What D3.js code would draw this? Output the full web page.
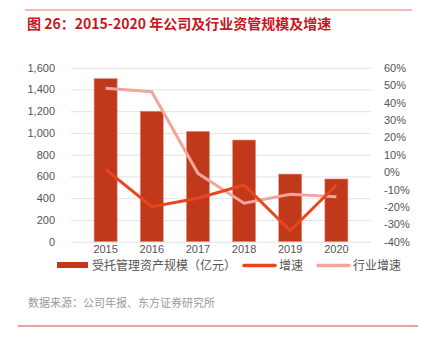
<!DOCTYPE html>
<html>
<head>
<meta charset="utf-8">
<script src="https://cdn.jsdelivr.net/npm/d3@7"></script>
<style>
  body { margin: 0; background: #fff; }
  svg { font-family: "Noto Sans CJK SC", "Liberation Sans", sans-serif; }
</style>
</head>
<body>
<svg width="426" height="340"></svg>
<script>
// data
var years = ['2015', '2016', '2017', '2018', '2019', '2020']
var scale = [1500, 1200, 1015, 935, 622, 577]       // 受托管理资产规模（亿元）
var growth = [1.6, -19.9, -15.0, -7.4, -33.7, -7.4]  // 增速 %
var industry = [48.2, 46.2, -0.7, -17.9, -12.8, -14.1] // 行业增速 %
var leftTicks = [0, 200, 400, 600, 800, 1000, 1200, 1400, 1600]
var rightTicks = [-40, -30, -20, -10, 0, 10, 20, 30, 40, 50, 60]

var svg = d3.select('svg')

// frame lines
svg.append('line').attr('x1', 25).attr('x2', 412).attr('y1', 10).attr('y2', 10)
  .attr('stroke', '#e8777a').attr('stroke-width', 1)
svg.append('line').attr('x1', 18).attr('x2', 418).attr('y1', 326).attr('y2', 326)
  .attr('stroke', '#d9454a').attr('stroke-width', 1)

// title
svg.append('text').attr('x', 27).attr('y', 29)
  .attr('fill', '#c8161e').attr('font-size', 14).attr('font-weight', 'bold')
  .text('图 26：2015-2020 年公司及行业资管规模及增速')

const pLeft = 71, pRight = 371, pTop = 67.7, pBottom = 241.7

const x = d3.scaleBand().domain(years).range([pLeft, pRight]).padding(0.5)
const yL = d3.scaleLinear().domain([0, 1600]).range([pBottom, pTop])
const yR = d3.scaleLinear().domain([-40, 60]).range([pBottom, pTop])

// grid
svg.append('g')
  .attr('transform', `translate(${pLeft},0)`)
  .call(d3.axisLeft(yL).tickValues(leftTicks).tickSize(-(pRight - pLeft)).tickFormat(''))
  .call(g => g.select('.domain').remove())
  .call(g => g.selectAll('line').attr('stroke', '#e3e3e3').attr('stroke-width', 1))

// left axis labels
svg.append('g')
  .attr('transform', `translate(${pLeft - 13},0)`)
  .call(d3.axisLeft(yL).tickValues(leftTicks).tickSize(0).tickFormat(d3.format(',')))
  .call(g => g.select('.domain').remove())
  .call(g => g.selectAll('text').attr('fill', '#555').attr('font-size', 11)
    .attr('font-family', 'Liberation Sans, sans-serif'))

// right axis labels
svg.append('g')
  .attr('transform', `translate(${pRight + 10},0)`)
  .call(d3.axisRight(yR).tickValues(rightTicks).tickSize(0).tickFormat(d => d + '%'))
  .call(g => g.select('.domain').remove())
  .call(g => g.selectAll('text').attr('fill', '#555').attr('font-size', 11)
    .attr('font-family', 'Liberation Sans, sans-serif'))

// x axis labels
svg.append('g')
  .attr('transform', `translate(0,${pBottom + 1})`)
  .call(d3.axisBottom(x).tickSize(0))
  .call(g => g.select('.domain').remove())
  .call(g => g.selectAll('text').attr('fill', '#555').attr('font-size', 11)
    .attr('font-family', 'Liberation Sans, sans-serif'))

// bars
svg.selectAll('.bar')
  .data(scale)
  .enter()
  .append('rect')
  .attr('class', 'bar')
  .attr('x', (d, i) => x(years[i]))
  .attr('y', d => yL(d))
  .attr('width', x.bandwidth())
  .attr('height', d => pBottom - yL(d))
  .attr('fill', '#c0391b')
  .attr('stroke', '#e6998a')
  .attr('stroke-width', 0.6)

const line = d3.line()
  .x((d, i) => x(years[i]) + x.bandwidth() / 2)
  .y(d => yR(d))

svg.append('path').datum(industry)
  .attr('d', line).attr('fill', 'none')
  .attr('stroke', '#f1a69b').attr('stroke-width', 3)

svg.append('path').datum(growth)
  .attr('d', line).attr('fill', 'none')
  .attr('stroke', '#e8461e').attr('stroke-width', 3)

// legend
const lg = svg.append('g').attr('font-size', 12).attr('fill', '#555')
lg.append('rect').attr('x', 57).attr('y', 262).attr('width', 31).attr('height', 6).attr('fill', '#c0391b')
lg.append('text').attr('x', 92).attr('y', 270).text('受托管理资产规模（亿元）')
lg.append('line').attr('x1', 244).attr('x2', 275).attr('y1', 265.5).attr('y2', 265.5)
  .attr('stroke', '#e8461e').attr('stroke-width', 3.5).attr('stroke-linecap', 'round')
lg.append('text').attr('x', 279).attr('y', 270).text('增速')
lg.append('line').attr('x1', 318).attr('x2', 349).attr('y1', 265.5).attr('y2', 265.5)
  .attr('stroke', '#f1a69b').attr('stroke-width', 3.5).attr('stroke-linecap', 'round')
lg.append('text').attr('x', 353).attr('y', 270).text('行业增速')

// source
svg.append('text').attr('x', 28).attr('y', 307)
  .attr('fill', '#999').attr('font-size', 11)
  .text('数据来源：公司年报、东方证券研究所')
</script>
</body>
</html>
